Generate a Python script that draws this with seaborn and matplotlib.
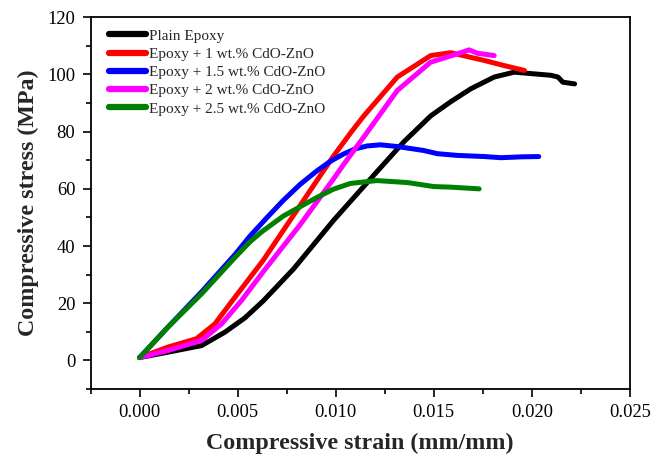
import numpy as np
import pandas as pd
import matplotlib
matplotlib.use("Agg")
import matplotlib.pyplot as plt
from matplotlib.ticker import MultipleLocator, FormatStrFormatter
import seaborn as sns

series_names = ["Plain Epoxy", "Epoxy + 1 wt.% CdO-ZnO", "Epoxy + 1.5 wt.% CdO-ZnO",
                "Epoxy + 2 wt.% CdO-ZnO", "Epoxy + 2.5 wt.% CdO-ZnO"]
colors = ["black", "red", "blue", "magenta", "green"]

plain_x = [0.0, 0.00145, 0.00316, 0.00435, 0.00537, 0.0063, 0.00785, 0.00989, 0.0121, 0.01348,
           0.01484, 0.01587, 0.01689, 0.01808, 0.0191, 0.01962, 0.02098, 0.02133, 0.02158, 0.02218]
plain_y = [1.0, 2.9, 5.2, 9.9, 14.9, 20.8, 32.0, 49.0, 66.0, 76.5,
           85.5, 90.5, 95.0, 99.1, 100.8, 100.5, 99.7, 99.1, 97.3, 96.7]

e1_x = [0.0, 0.00145, 0.0029, 0.00384, 0.00486, 0.0063, 0.00733, 0.00904, 0.00989, 0.01075,
        0.01143, 0.01314, 0.01484, 0.01587, 0.01757, 0.01859, 0.01962]
e1_y = [1.0, 4.7, 7.6, 12.8, 22.1, 35.0, 45.5, 62.9, 71.5, 79.5,
        85.5, 99.1, 106.6, 107.6, 104.9, 103.1, 101.4]

e15_x = [0.0, 0.00145, 0.00316, 0.00486, 0.00563, 0.0065, 0.00733, 0.00819, 0.00904, 0.00972,
         0.0104, 0.011, 0.0116, 0.01228, 0.01314, 0.0145, 0.01518, 0.0162, 0.01757, 0.01842,
         0.0195, 0.02035]
e15_y = [1.0, 11.7, 24.0, 37.0, 43.5, 50.0, 56.0, 61.6, 66.3, 69.6,
         72.2, 74.0, 75.0, 75.4, 74.8, 73.4, 72.3, 71.7, 71.3, 70.9,
         71.2, 71.3]

e2_x = [0.0, 0.00145, 0.00316, 0.00418, 0.0052, 0.0063, 0.00819, 0.00989, 0.0104,
        0.0115, 0.01314, 0.01484, 0.0162, 0.0168, 0.01723, 0.01808]
e2_y = [1.0, 3.5, 7.0, 12.8, 21.0, 31.0, 47.5, 63.5, 68.5,
        78.8, 94.4, 104.3, 107.2, 108.6, 107.4, 106.6]

e25_x = [0.0, 0.00145, 0.00316, 0.00486, 0.00563, 0.00623, 0.00733, 0.00904, 0.00989, 0.01075,
         0.0121, 0.01366, 0.015, 0.01587, 0.01731]
e25_y = [1.0, 11.7, 23.3, 36.0, 41.5, 45.0, 50.5, 57.0, 59.9, 61.9,
         62.9, 62.2, 60.8, 60.6, 60.0]

xs = [plain_x, e1_x, e15_x, e2_x, e25_x]
ys = [plain_y, e1_y, e15_y, e2_y, e25_y]
frames = []
for name, x, y in zip(series_names, xs, ys):
    frames.append(pd.DataFrame({"strain": x, "stress": y, "sample": name}))
df = pd.concat(frames, ignore_index=True)

sns.set_style("white")
plt.rcParams["font.family"] = ["Liberation Serif", "DejaVu Serif"]

fig = plt.figure(figsize=(6.61, 4.54), dpi=100)
ax = fig.add_axes([0.137, 0.143, 0.816, 0.819])
sns.lineplot(data=df, x="strain", y="stress", hue="sample", hue_order=series_names,
             palette=colors, sort=False, estimator=None, linewidth=3.6, ax=ax)
for ln in ax.get_lines():
    ln.set_solid_joinstyle("round")
    ln.set_solid_capstyle("round")

ax.set_xlim(-0.0025, 0.025)
ax.set_ylim(-10, 120)
ax.xaxis.set_major_locator(MultipleLocator(0.005))
ax.xaxis.set_minor_locator(MultipleLocator(0.0025))
ax.xaxis.set_major_formatter(FormatStrFormatter("%.3f"))
ax.yaxis.set_major_locator(MultipleLocator(20))
ax.yaxis.set_minor_locator(MultipleLocator(10))
ax.tick_params(which="both", direction="out", bottom=True, left=True, top=False, right=False,
               labelsize=13.3, colors="black")
ax.tick_params(which="major", length=6, width=1.2, pad=5)
ax.tick_params(which="minor", length=3.5, width=1.2)
for s in ax.spines.values():
    s.set_color("black")
    s.set_linewidth(1.3)

ax.set_xlabel("Compressive strain (mm/mm)", fontsize=17.3, fontweight="bold", labelpad=8)
ax.set_ylabel("Compressive stress (MPa)", fontsize=17.3, fontweight="bold", labelpad=6)

leg = ax.legend(loc="upper left", frameon=False, fontsize=11, handlelength=2.4,
                handletextpad=0.2, labelspacing=0.3, borderpad=0.4, borderaxespad=0.0,
                bbox_to_anchor=(0.023, 0.985))
for h in leg.get_lines():
    h.set_linewidth(4.5)

fig.savefig("out.png", dpi=100)
